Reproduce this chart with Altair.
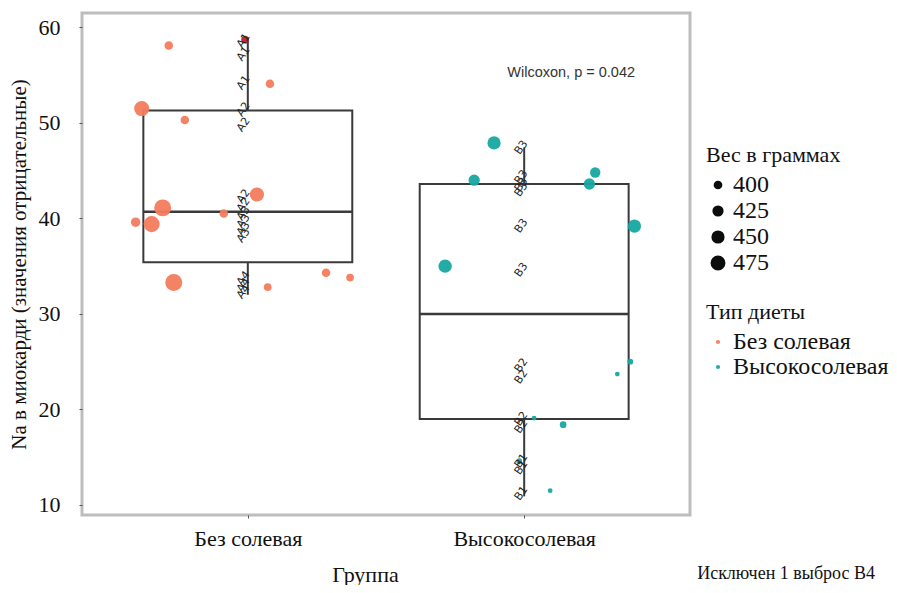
import altair as alt
import pandas as pd

FONT = "Liberation Serif"

groups = ["Без солевая", "Высокосолевая"]
diets = ["Без солевая", "Высокосолевая"]
diet_colors = ["#F27C5C", "#17A8A0"]

# Box statistics per group (Na)
box_group = [1, 2]
box_q1 = [35.4, 19.0]
box_med = [40.7, 30.0]
box_q3 = [51.3, 43.6]
box_lo = [32.0, 10.9]
box_hi = [58.8, 47.4]

# Jittered points: group position (with jitter), Na value, weight, diet
pt_x = [0.714, 1.080, 0.616, 0.772, 1.033, 0.692, 0.652, 0.594, 0.913, 0.732, 1.072, 1.283, 1.370,
        1.891, 1.819, 2.257, 2.236, 2.399, 1.714, 2.384, 2.337, 2.141, 2.036, 1.982, 2.094]
pt_na = [58.1, 54.1, 51.5, 50.3, 42.5, 41.1, 39.4, 39.6, 40.5, 33.3, 32.8, 34.3, 33.8,
         47.9, 44.0, 44.8, 43.6, 39.2, 35.0, 25.0, 23.7, 18.4, 19.1, 14.6, 11.5]
pt_weight = [412, 412, 504, 412, 488, 539, 521, 422, 412, 539, 404, 412, 404,
             473, 445, 433, 445, 473, 473, 389, 383, 396, 383, 389, 383]
pt_diet = [diets[0]] * 13 + [diets[1]] * 12

# Outlier point (dark red)
out_x = [0.99]
out_na = [58.7]

# Animal labels
lab_x = [0.985] * 14 + [1.99] * 13
lab_na = [58.6, 57.2, 54.2, 51.4, 49.8, 42.3, 41.4, 40.5, 39.7, 38.9, 38.2, 33.7, 33.0, 32.3,
          47.4, 44.3, 43.5, 43.0, 39.2, 34.6, 24.6, 23.4, 19.0, 18.2, 14.6, 13.9, 11.2]
lab_text = ["A1", "A1", "A1", "A2", "A2", "A2", "A2", "A3", "A3", "A3", "A3", "A4", "A4", "A4",
            "B3", "B3", "B3", "B3", "B3", "B3", "B2", "B2", "B2", "B2", "B1", "B1", "B1"]

annot_x = [2.17]
annot_y = [55.2]
annot_text = ["Wilcoxon, p = 0.042"]

boxes = pd.DataFrame({"g": box_group, "q1": box_q1, "med": box_med, "q3": box_q3,
                      "lo": box_lo, "hi": box_hi})
points = pd.DataFrame({"x": pt_x, "na": pt_na, "w": pt_weight, "diet": pt_diet})
outl = pd.DataFrame({"x": out_x, "na": out_na})
labels = pd.DataFrame({"x": lab_x, "na": lab_na, "t": lab_text})
annot = pd.DataFrame({"x": annot_x, "y": annot_y, "t": annot_text})

YDOM = [8.95, 61.5]
XDOM = [0.4, 2.6]

xscale = alt.Scale(domain=XDOM, nice=False, zero=False)
yscale = alt.Scale(domain=YDOM, nice=False, zero=False)

xaxis = alt.Axis(values=[1, 2], labelExpr="datum.value == 1 ? 'Без солевая' : 'Высокосолевая'",
                 title="Группа", grid=False, domain=False, tickColor="#555", tickSize=3,
                 labelFont=FONT, labelFontSize=22, labelColor="#111", labelPadding=10,
                 titleFont=FONT, titleFontSize=22, titleFontWeight="normal", titleColor="#111",
                 titleX=283, titleY=66, titleBaseline="alphabetic", titleAnchor="start", titleAlign="center")
yaxis = alt.Axis(values=[10, 20, 30, 40, 50, 60], title="Na в миокарди (значения отрицательные)",
                 grid=False, domain=False, tickColor="#555", tickSize=3,
                 labelFont=FONT, labelFontSize=22, labelColor="#111", labelPadding=19,
                 titleFont=FONT, titleFontSize=21, titleFontWeight="normal", titleColor="#111",
                 titlePadding=9)

base_box = alt.Chart(boxes).transform_calculate(
    x1="datum.g - 0.378", x2="datum.g + 0.378"
)

whisk_up = base_box.mark_rule(color="#3a3a3a", strokeWidth=2).encode(
    x=alt.X("g:Q", scale=xscale, axis=xaxis),
    y=alt.Y("q3:Q", scale=yscale, axis=yaxis),
    y2="hi:Q",
)
whisk_lo = base_box.mark_rule(color="#3a3a3a", strokeWidth=2).encode(
    x=alt.X("g:Q", scale=xscale), y=alt.Y("lo:Q", scale=yscale), y2="q1:Q"
)
rect = base_box.mark_rect(fill="white", fillOpacity=0, stroke="#3a3a3a", strokeWidth=2).encode(
    x=alt.X("x1:Q", scale=xscale), x2="x2:Q",
    y=alt.Y("q1:Q", scale=yscale), y2="q3:Q",
)
med = base_box.mark_rule(color="#3a3a3a", strokeWidth=2.5).encode(
    x=alt.X("x1:Q", scale=xscale), x2="x2:Q", y=alt.Y("med:Q", scale=yscale)
)

pts = alt.Chart(points).mark_circle(opacity=0.95).encode(
    x=alt.X("x:Q", scale=xscale),
    y=alt.Y("na:Q", scale=yscale),
    size=alt.Size("w:Q", scale=alt.Scale(domain=[380, 540], range=[18, 290], zero=False),
                  legend=alt.Legend(title="Вес в граммах", values=[400, 425, 450, 475],
                                    orient="none", legendX=624, legendY=132,
                                    symbolFillColor="black", symbolStrokeColor="black",
                                    symbolStrokeWidth=1.5,
                                    symbolType="circle", labelOffset=3, rowPadding=2)),
    color=alt.Color("diet:N", scale=alt.Scale(domain=diets, range=diet_colors),
                    legend=alt.Legend(title="Тип диеты", orient="none", legendX=624, legendY=289,
                                      symbolSize=18, symbolType="circle", labelOffset=3,
                                      rowPadding=1)),
)

outp = alt.Chart(outl).mark_circle(color="#B2182B", size=60, opacity=0.9).encode(
    x=alt.X("x:Q", scale=xscale), y=alt.Y("na:Q", scale=yscale)
)

labs = alt.Chart(labels).mark_text(angle=305, fontSize=11, color="#222", font="DejaVu Sans",
                                   baseline="middle", align="center").encode(
    x=alt.X("x:Q", scale=xscale), y=alt.Y("na:Q", scale=yscale), text="t:N"
)

ann = alt.Chart(annot).mark_text(fontSize=14.5, color="#333", font="Liberation Sans",
                                 align="center", baseline="middle").encode(
    x=alt.X("x:Q", scale=xscale), y=alt.Y("y:Q", scale=yscale), text="t:N"
)

chart = alt.layer(rect, med, whisk_up, whisk_lo, pts, outp, labs, ann).properties(
    width=608, height=502,
    autosize=alt.AutoSizeParams(type="none"),
    padding={"left": 74, "top": 5, "right": 199, "bottom": 70},
    title=alt.TitleParams("Исключен 1 выброс B4", orient="bottom", anchor="end", frame="group",
                          font=FONT, fontSize=18, fontWeight="normal", color="#111",
                          baseline="alphabetic", dx=185, offset=-6),
).resolve_scale(size="independent", color="independent").configure(
    font=FONT
).configure_view(
    stroke="#BDBDBD", strokeWidth=3
).configure_legend(
    titleFont=FONT, titleFontSize=22, titleFontWeight="normal", titleColor="#111",
    labelFont=FONT, labelFontSize=24, labelColor="#111", titlePadding=6,
)

chart.save("out.html", embed_options={"renderer": "svg", "actions": False})
